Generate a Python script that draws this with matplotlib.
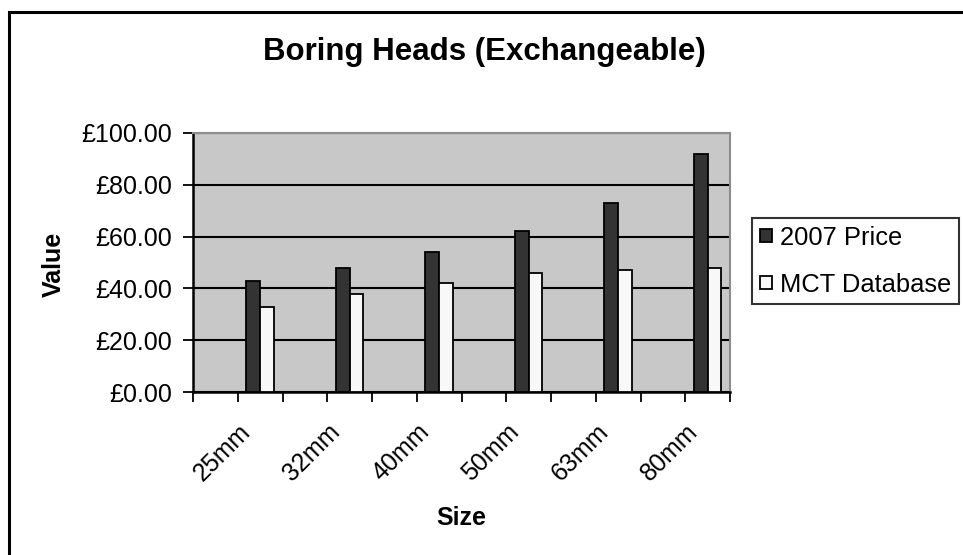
import numpy as np
import matplotlib.pyplot as plt
from matplotlib.patches import Rectangle
from matplotlib.ticker import FuncFormatter

plt.rcParams['font.family'] = ['Liberation Sans', 'DejaVu Sans']

sizes = ['25mm', '32mm', '40mm', '50mm', '63mm', '80mm']
price_2007 = [43, 48, 54, 62, 73, 92]
mct_database = [33, 38, 42, 46, 47, 48]

fig = plt.figure(figsize=(9.63, 5.55), dpi=100)
ax = fig.add_axes([193 / 963, 1 - 392 / 555, (730 - 193) / 963, (392 - 133) / 555])

# outer chart frame
fig.patches.append(Rectangle((9 / 963, -0.1), 1.2, 0.1 + (555 - 12) / 555,
                             transform=fig.transFigure, fill=False,
                             edgecolor='black', linewidth=2.2))

# 12 category slots, data sits in every second one
slot = np.arange(len(sizes)) * 2 + 1.5
w = 0.31
ax.bar(slot - w / 2, price_2007, w, color='#333333', edgecolor='black',
       linewidth=1.3, label='2007 Price', zorder=3)
ax.bar(slot + w / 2, mct_database, w, color='#f8f8f8', edgecolor='black',
       linewidth=1.3, label='MCT Database', zorder=3)

ax.set_facecolor('#c8c8c8')
ax.set_xlim(0, 12)
ax.set_ylim(0, 100)
ax.set_yticks(np.arange(0, 101, 20))
ax.yaxis.set_major_formatter(FuncFormatter(lambda v, p: f'£{v:.2f}'))
ax.yaxis.grid(True, color='black', linewidth=1.5, zorder=1)
ax.set_axisbelow(True)

ax.set_xticks(np.arange(0, 13))
ax.set_xticklabels([])
ax.tick_params(axis='both', direction='out', length=7, width=1.3,
               color='black', labelsize=18, pad=8)
for i, name in enumerate(sizes):
    ax.text(slot[i] - 0.49, -10.6, name, rotation=45, ha='right', va='top',
            rotation_mode='anchor', fontsize=18, clip_on=False)

for s in ['left', 'bottom']:
    ax.spines[s].set_color('black')
    ax.spines[s].set_linewidth(1.8)
for s in ['top', 'right']:
    ax.spines[s].set_color('#8c8c8c')
    ax.spines[s].set_linewidth(1.5)

fig.text(484 / 963, 1 - 52 / 555, 'Boring Heads (Exchangeable)', ha='center',
         va='center', fontsize=22.5, fontweight='bold')
fig.text(461 / 963, 1 - 518 / 555, 'Size', ha='center', va='center',
         fontsize=18, fontweight='bold')
fig.text(54 / 963, 1 - 264 / 555, 'Value', ha='center', va='center',
         rotation=90, fontsize=18, fontweight='bold')

leg = fig.legend(loc='center left', bbox_to_anchor=(752 / 963, 1 - 261 / 555),
                 fontsize=18.4, frameon=True, fancybox=False, edgecolor='black',
                 handlelength=0.5, handleheight=0.4, handletextpad=0.3,
                 borderpad=0.3, labelspacing=0.9, borderaxespad=0)
leg.get_frame().set_linewidth(1.5)

fig.savefig('out.png', dpi=100)
